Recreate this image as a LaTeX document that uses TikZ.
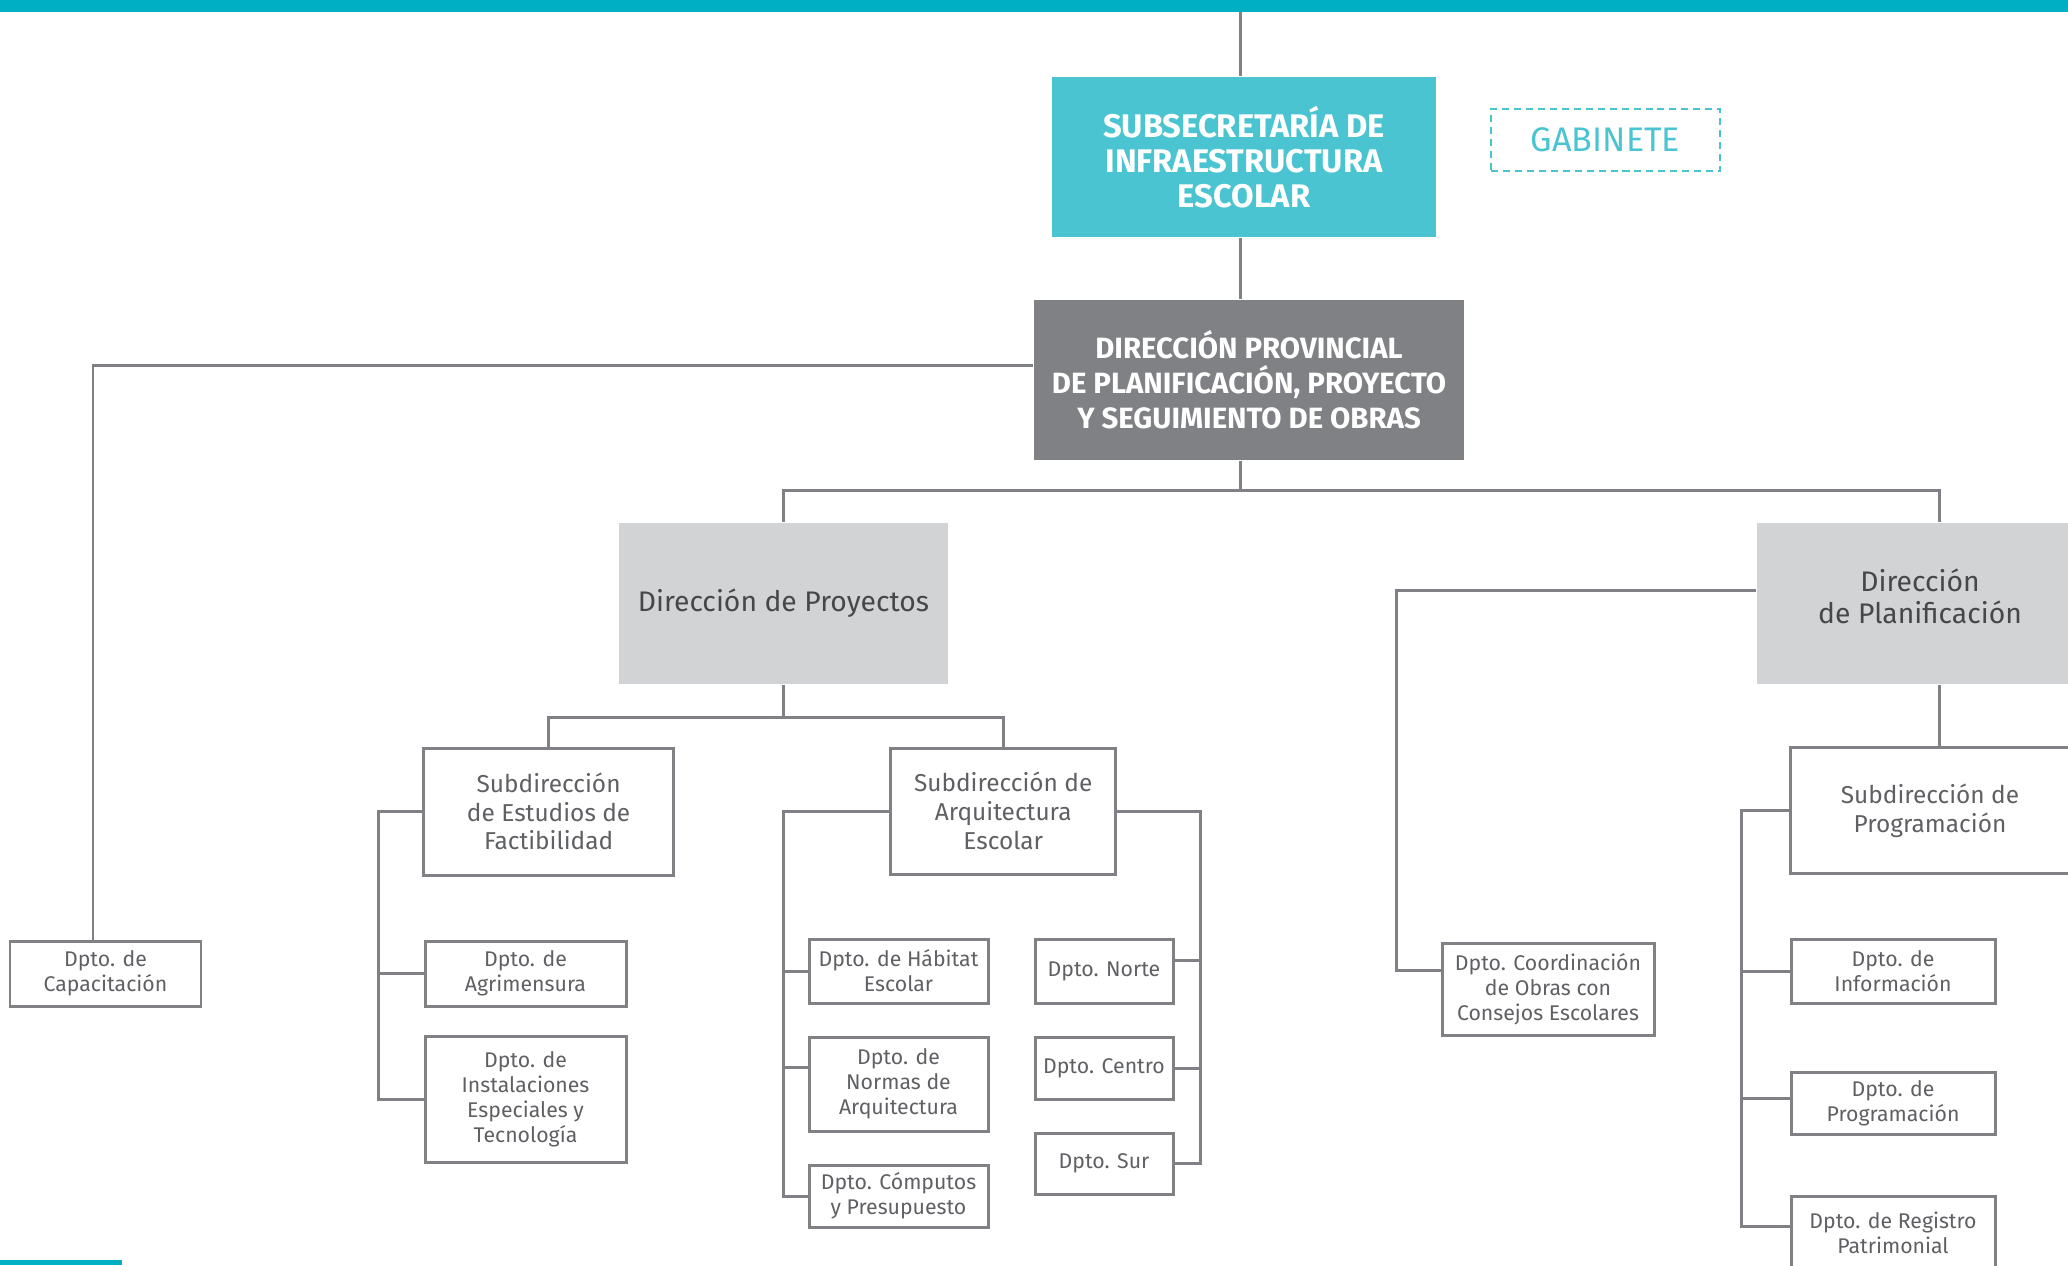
\documentclass[tikz,border=0pt]{standalone}
\usepackage{fontspec}
\setmainfont{Fira Sans}
\definecolor{cyanbar}{RGB}{0,175,196}
\definecolor{cyanbox}{RGB}{75,196,210}
\definecolor{darkbox}{RGB}{128,129,132}
\definecolor{lightbox}{RGB}{209,211,212}
\definecolor{linegray}{RGB}{128,129,132}
\definecolor{textgray}{RGB}{95,96,99}
\definecolor{textdark}{RGB}{70,71,73}

\begin{document}
\begin{tikzpicture}
        \tikzstyle{conn} = [draw=linegray, line width=0.85pt]
        \tikzstyle{topnode} = [fill=cyanbox, text=white, align=center, inner sep=0pt, font=\bfseries\fontsize{9.3}{10}\selectfont]
        \tikzstyle{gabnode} = [draw=cyanbox, dash pattern=on 2pt off 1.4pt, line width=0.7pt, text=cyanbox, inner sep=0pt, font=\fontsize{9.7}{10}\selectfont]
        \tikzstyle{dirnode} = [fill=lightbox, text=textdark, align=center, inner sep=0pt, minimum height=1.61cm, font=\fontsize{8.05}{9}\selectfont]
        \tikzstyle{subnode} = [draw=linegray, line width=0.85pt, fill=white, text=textgray, align=center, inner sep=0pt, minimum height=1.26cm, font=\fontsize{6.95}{8.2}\selectfont]
        \tikzstyle{dptnode} = [draw=linegray, line width=0.85pt, fill=white, text=textgray, align=center, inner sep=0pt, font=\fontsize{6.05}{7.1}\selectfont]

        \useasboundingbox (0,0) rectangle (20.68,-12.65);
        \clip (0,0) rectangle (20.68,-12.65);

        % bands
        \fill[cyanbar] (0,0) rectangle (20.68,-0.12);
        \fill[cyanbar] (0,-12.60) rectangle (1.22,-12.65);

        % top levels
        \node[topnode, minimum width=3.84cm, minimum height=1.60cm] (sub) at (12.44,-1.57) {SUBSECRETARÍA DE\\INFRAESTRUCTURA\\ESCOLAR};
        \node[gabnode, minimum width=2.29cm, minimum height=0.62cm] (gab) at (16.055,-1.40) {GABINETE};
        \node[topnode, fill=darkbox, font=\bfseries\fontsize{8.35}{10}\selectfont, minimum width=4.30cm, minimum height=1.60cm] (dp) at (12.49,-3.80) {DIRECCIÓN PROVINCIAL\\DE PLANIFICACIÓN, PROYECTO\\Y SEGUIMIENTO DE OBRAS};

        % direcciones
        \node[dirnode, minimum width=3.29cm] (dproy) at (7.834,-6.033) {Dirección de Proyectos};
        \node[dirnode, minimum width=3.26cm, label={[align=center, text=textdark, font=\fontsize{8.05}{9}\selectfont, yshift=0.07cm]center:Dirección\\de Planificación}] (dplan) at (19.20,-6.035) {};

        % subdirecciones
        \node[subnode, minimum width=2.505cm, minimum height=1.27cm] (sest) at (5.486,-8.115) {Subdirección\\de Estudios de\\Factibilidad};
        \node[subnode, minimum width=2.25cm] (sarq) at (10.032,-8.11) {Subdirección de\\Arquitectura\\Escolar};
        \node[subnode, minimum width=2.80cm] (sprog) at (19.30,-8.105) {Subdirección de\\Programación};

        % departamentos
        \node[dptnode, minimum width=1.91cm, minimum height=0.65cm] (cap) at (1.055,-9.735) {Dpto. de\\Capacitación};
        \node[dptnode, minimum width=2.01cm, minimum height=0.65cm] (agr) at (5.255,-9.735) {Dpto. de\\Agrimensura};
        \node[dptnode, minimum width=2.01cm, minimum height=1.26cm] (inst) at (5.255,-10.997) {Dpto. de\\Instalaciones\\Especiales y\\Tecnología};
        \node[dptnode, minimum width=1.79cm, minimum height=0.64cm] (hab) at (8.985,-9.71) {Dpto. de Hábitat\\Escolar};
        \node[dptnode, minimum width=1.79cm, minimum height=0.94cm] (norm) at (8.985,-10.84) {Dpto. de\\Normas de\\Arquitectura};
        \node[dptnode, minimum width=1.79cm, minimum height=0.62cm] (comp) at (8.985,-11.96) {Dpto. Cómputos\\y Presupuesto};
        \node[dptnode, minimum width=1.38cm, minimum height=0.64cm] (norte) at (11.04,-9.71) {Dpto. Norte};
        \node[dptnode, minimum width=1.38cm, minimum height=0.62cm] (centro) at (11.04,-10.68) {Dpto. Centro};
        \node[dptnode, minimum width=1.38cm, minimum height=0.61cm] (sur) at (11.04,-11.635) {Dpto. Sur};
        \node[dptnode, minimum width=2.12cm, minimum height=0.92cm] (coord) at (15.48,-9.89) {Dpto. Coordinación\\de Obras con\\Consejos Escolares};
        \node[dptnode, minimum width=2.04cm, minimum height=0.64cm] (info) at (18.93,-9.71) {Dpto. de\\Información};
        \node[dptnode, minimum width=2.04cm, minimum height=0.62cm] (prog) at (18.93,-11.03) {Dpto. de\\Programación};
        \node[dptnode, minimum width=2.04cm, minimum height=0.74cm] (reg) at (18.93,-12.33) {Dpto. de Registro\\Patrimonial};

        % trunk
        \coordinate (barend) at (12.40,-0.12);
        \coordinate (b0) at (12.40,-4.906);
        \draw[conn] (barend) -- (barend |- sub.north);
        \draw[conn] (sub.south -| barend) -- (dp.north -| barend);
        \draw[conn] (dp.south -| barend) -- (b0);
        \draw[conn] (dproy.north) |- (b0) -| ([xshift=1.9mm]dplan.north);
        \draw[conn] ([yshift=1.43mm]dp.west) -| ([xshift=-1.25mm]cap.north);

        % proyectos
        \coordinate (pj) at (7.834,-7.173);
        \draw[conn] (dproy.south) -- (pj);
        \draw[conn] (sest.north) |- (pj) -| (sarq.north);

        \coordinate (eb) at (3.785,0);
        \draw[conn] (sest.west) -- (sest.west -| eb) |- (inst.west);
        \draw[conn] (agr.west) -- (agr.west -| eb);

        \coordinate (ab) at (7.836,0);
        \draw[conn] (sarq.west) -- (sarq.west -| ab) |- (comp.west);
        \draw[conn] (hab.west) -- (hab.west -| ab);
        \draw[conn] ([yshift=1.63mm]norm.west) -- ([yshift=1.63mm]norm.west -| ab);

        \coordinate (rb) at (12.00,0);
        \draw[conn] (sarq.east) -- (sarq.east -| rb) |- (sur.east);
        \draw[conn] ([yshift=1.1mm]norte.east) -- ([yshift=1.1mm]norte.east -| rb);
        \draw[conn] (centro.east) -- (centro.east -| rb);

        % planificacion
        \draw[conn] ([yshift=1.26mm]dplan.west) -| ([xshift=-4.38mm,yshift=1.9mm]coord.west) -- ([yshift=1.9mm]coord.west);
        \draw[conn] ([xshift=1.9mm]dplan.south) -- ([xshift=1.9mm]dplan.south |- sprog.north);

        \coordinate (pb) at (17.417,0);
        \draw[conn] (sprog.west) -- (sprog.west -| pb) |- ([yshift=0.7mm]reg.west);
        \draw[conn] (info.west) -- (info.west -| pb);
        \draw[conn] ([yshift=0.5mm]prog.west) -- ([yshift=0.5mm]prog.west -| pb);
\end{tikzpicture}
\end{document}
